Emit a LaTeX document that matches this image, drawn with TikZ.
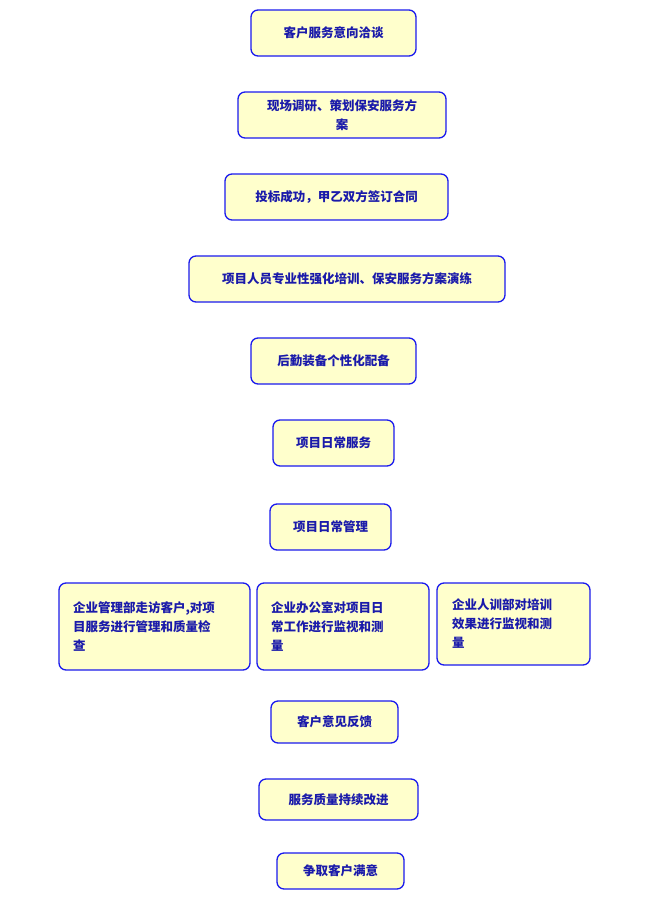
\documentclass[tikz,border=0pt]{standalone}
\usepackage{fontspec}
\newfontfamily\cjk{Noto Sans CJK SC}
\definecolor{boxfill}{HTML}{FFFFCC}
\definecolor{boxline}{HTML}{1A1AEE}
\definecolor{boxtext}{HTML}{1A1AAA}
\begin{document}
\begin{tikzpicture}[
    x=1pt, y=-1pt,
    step box/.style={draw=boxline, fill=boxfill, line width=1.3pt, rounded corners=7pt, inner sep=0pt,
        font=\cjk\bfseries\fontsize{12.5}{19}\selectfont, text=boxtext, align=center},
    side box/.style={step box, align=left}
]
\useasboundingbox (0,0) rectangle (650,900);

% Main column of steps
\node[step box, minimum width=165, minimum height=46] (talk) at (333.5,33) {客户服务意向洽谈};
\node[step box, minimum width=208, minimum height=46] (plan) at (342,115) {现场调研、策划保安服务方\\案};
\node[step box, minimum width=223, minimum height=46] (bid) at (336.5,197) {投标成功，甲乙双方签订合同};
\node[step box, minimum width=316, minimum height=46] (train) at (347,279) {项目人员专业性强化培训、保安服务方案演练};
\node[step box, minimum width=165, minimum height=46] (equip) at (333.5,361) {后勤装备个性化配备};
\node[step box, minimum width=121, minimum height=46] (serve) at (333.5,443) {项目日常服务};
\node[step box, minimum width=121, minimum height=46] (manage) at (330.5,527) {项目日常管理};

% Three checking units
\node[side box, minimum width=191, minimum height=87, text width=163] (visit) at (154.5,626.5) {企业管理部走访客户,对项\\目服务进行管理和质量检\\查};
\node[side box, minimum width=172, minimum height=87, text width=144] (office) at (343,626.5) {企业办公室对项目日\\常工作进行监视和测\\量};
\node[side box, minimum width=153, minimum height=82, text width=123] (hr) at (513.5,624) {企业人训部对培训\\效果进行监视和测\\量};

% Closing steps
\node[step box, minimum width=127, minimum height=42] (feedback) at (334.5,722) {客户意见反馈};
\node[step box, minimum width=159, minimum height=41] (improve) at (338.5,799.5) {服务质量持续改进};
\node[step box, minimum width=127, minimum height=36] (satisfy) at (340.5,871) {争取客户满意};

\end{tikzpicture}
\end{document}
